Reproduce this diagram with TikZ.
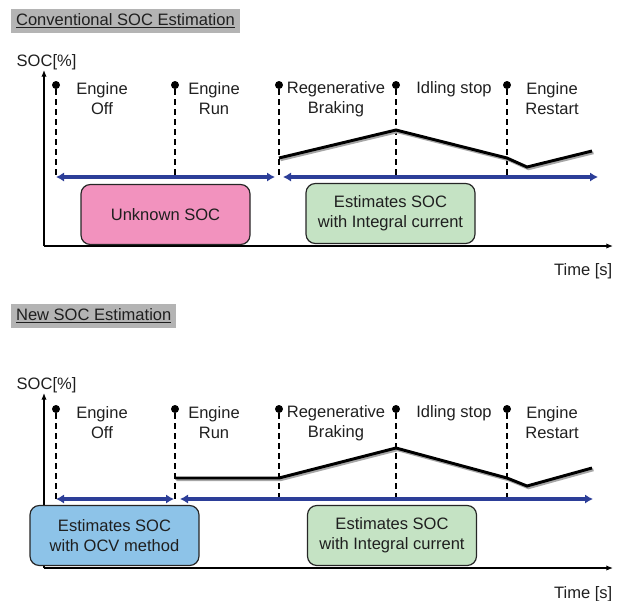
\documentclass[tikz,border=0pt]{standalone}
\usepackage{fontspec}
\setmainfont{Liberation Sans}
\usetikzlibrary{arrows.meta,positioning}

\definecolor{titlegray}{RGB}{180,180,180}
\definecolor{spanblue}{RGB}{44,62,152}
\definecolor{unknownpink}{RGB}{242,146,190}
\definecolor{integralgreen}{RGB}{197,227,196}
\definecolor{ocvblue}{RGB}{141,195,232}

\begin{document}
\begin{tikzpicture}[
    x=0.75pt, y=-0.75pt,
    every node/.style={font=\fontsize{12.4}{15}\selectfont, text=black!88},
    title/.style={fill=titlegray, anchor=west, inner xsep=3.6pt, inner ysep=0pt, minimum height=18pt},
    phase/.style={align=center, inner sep=0pt},
    dot/.style={circle, fill=black, inner sep=0pt, minimum size=6pt},
    marker/.style={dash pattern=on 4.5pt off 3pt, line width=0.9pt},
    timespan/.style={draw=spanblue, line width=2.4pt, {Latex[length=6pt,width=7pt]}-{Latex[length=6pt,width=7pt]}},
    axis/.style={line width=0.9pt, -{Latex[length=5pt,width=4pt]}},
    soc/.style={line width=2.2pt},
    socshadow/.style={black!35, line width=2.2pt, xshift=1.1pt, yshift=-1.3pt},
    estbox/.style={draw=black!85, line width=0.9pt, rounded corners=7pt, align=center, minimum width=126.75pt, minimum height=45pt}
]
    \useasboundingbox (0,0) rectangle (619,601);

    % ---------- conventional estimation ----------
    \node[title] (convtitle) at (11,21) {\underline{Conventional SOC Estimation}};

    \coordinate (convorigin) at (44,246);
    \draw[axis] (convorigin) -- (44,70) coordinate (convy);
    \draw[axis] (convorigin) -- (613,246) coordinate (convx);
    \node[anchor=west] (convsoc) at (12,62) {SOC[\%]};
    \node[anchor=east] (convtime) at (617,271) {Time [s]};

    \foreach \x/\n in {56/a,175/b,279/c,396/d,507/e} {
        \node[dot] (convdot\n) at (\x,85) {};
        \coordinate (convend\n) at (\x,177);
        \draw[marker] (convdot\n) -- (convend\n);
    }

    \node[phase] (convoff) at (102,99) {Engine\\Off};
    \node[phase] (convrun) at (214,99) {Engine\\Run};
    \node[phase] (convregen) at (336,99) {Regenerative\\Braking};
    \node[phase] (convidle) at (454,89) {Idling stop};
    \node[phase] (convrestart) at (552,99) {Engine\\Restart};

    % SOC trace
    \draw[socshadow] (279,158) -- (396,130) -- (507,158) -- (527,167) -- (592,151);
    \draw[soc] (279,158) -- (396,130) -- (507,158) -- (527,167) -- (592,151);

    \coordinate (convspanb) at (275,177);
    \coordinate (convspanc) at (283,177);
    \coordinate (convspanf) at (598,177);
    \draw[timespan] (convenda) -- (convspanb);
    \draw[timespan] (convspanc) -- (convspanf);

    \node[estbox, fill=unknownpink] (unknown) at (165.5,214.5) {Unknown SOC};
    \node[estbox, fill=integralgreen] (convintegral) at (390.5,213.5) {Estimates SOC\\with Integral current};

    % ---------- new estimation ----------
    \node[title] (newtitle) at (11,316) {\underline{New SOC Estimation}};

    \coordinate (neworigin) at (44,568);
    \draw[axis] (neworigin) -- (44,393) coordinate (newy);
    \draw[axis] (neworigin) -- (613,568) coordinate (newx);
    \node[anchor=west] (newsoc) at (12,385) {SOC[\%]};
    \node[anchor=east] (newtime) at (617,594) {Time [s]};

    \foreach \x/\n in {56/a,175/b,279/c,396/d,507/e} {
        \node[dot] (newdot\n) at (\x,409) {};
        \coordinate (newend\n) at (\x,499);
        \draw[marker] (newdot\n) -- (newend\n);
    }

    \node[phase] (newoff) at (102,423) {Engine\\Off};
    \node[phase] (newrun) at (214,423) {Engine\\Run};
    \node[phase] (newregen) at (336,423) {Regenerative\\Braking};
    \node[phase] (newidle) at (454,413) {Idling stop};
    \node[phase] (newrestart) at (552,423) {Engine\\Restart};

    % SOC trace
    \draw[socshadow] (175,478) -- (279,478) -- (396,448) -- (507,478) -- (527,486) -- (592,468);
    \draw[soc] (175,478) -- (279,478) -- (396,448) -- (507,478) -- (527,486) -- (592,468);

    \coordinate (newspanb) at (174,499);
    \coordinate (newspanc) at (180,499);
    \coordinate (newspanf) at (593,499);
    \draw[timespan] (newenda) -- (newspanb);
    \draw[timespan] (newspanc) -- (newspanf);

    \node[estbox, fill=ocvblue] (ocv) at (114.5,535.5) {Estimates SOC\\with OCV method};
    \node[estbox, fill=integralgreen] (newintegral) at (392,535.5) {Estimates SOC\\with Integral current};
\end{tikzpicture}
\end{document}
